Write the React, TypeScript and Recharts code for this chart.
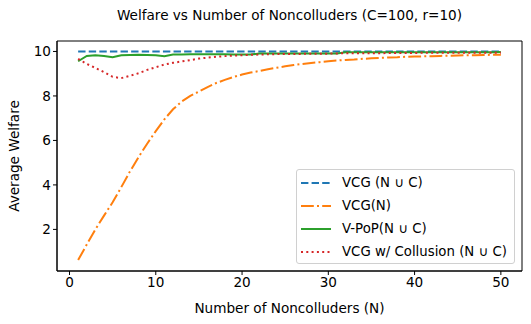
import React from 'react';
import {
  LineChart,
  Line,
  XAxis,
  YAxis,
  ReferenceArea,
} from 'recharts';

const noncolluders = Array.from({ length: 50 }, (_, i) => i + 1);

const vcgUnion = [
  10.0, 10.0, 10.0, 10.0, 10.0, 10.0, 10.0, 10.0, 10.0, 10.0,
  10.0, 10.0, 10.0, 10.0, 10.0, 10.0, 10.0, 10.0, 10.0, 10.0,
  10.0, 10.0, 10.0, 10.0, 10.0, 10.0, 10.0, 10.0, 10.0, 10.0,
  10.0, 10.0, 10.0, 10.0, 10.0, 10.0, 10.0, 10.0, 10.0, 10.0,
  10.0, 10.0, 10.0, 10.0, 10.0, 10.0, 10.0, 10.0, 10.0, 10.0,
];

const vcgN = [
  0.62, 1.32, 2.0, 2.62, 3.22, 3.9, 4.6, 5.25, 5.85, 6.42,
  6.95, 7.4, 7.75, 8.0, 8.2, 8.4, 8.58, 8.72, 8.85, 8.96,
  9.05, 9.12, 9.2, 9.27, 9.33, 9.39, 9.44, 9.48, 9.52, 9.56,
  9.59, 9.62, 9.64, 9.67, 9.69, 9.71, 9.73, 9.74, 9.76, 9.77,
  9.78, 9.79, 9.8, 9.81, 9.82, 9.83, 9.83, 9.84, 9.85, 9.85,
];

const vpop = [
  9.56, 9.8, 9.83, 9.8, 9.74, 9.83, 9.84, 9.85, 9.84, 9.83,
  9.79, 9.86, 9.86, 9.87, 9.87, 9.87, 9.87, 9.87, 9.86, 9.86,
  9.86, 9.91, 9.91, 9.91, 9.91, 9.91, 9.91, 9.91, 9.91, 9.91,
  9.91, 9.96, 9.96, 9.96, 9.96, 9.96, 9.96, 9.96, 9.96, 9.96,
  9.96, 9.96, 9.96, 9.96, 9.96, 9.96, 9.96, 9.96, 9.96, 9.98,
];

const vcgCollusion = [
  9.67, 9.44, 9.26, 9.07, 8.86, 8.8, 8.9, 9.02, 9.17, 9.29,
  9.41, 9.49, 9.55, 9.61, 9.68, 9.72, 9.76, 9.79, 9.81, 9.83,
  9.85, 9.86, 9.87, 9.88, 9.88, 9.89, 9.89, 9.9, 9.9, 9.9,
  9.91, 9.92, 9.92, 9.92, 9.92, 9.92, 9.93, 9.93, 9.93, 9.93,
  9.94, 9.94, 9.94, 9.94, 9.94, 9.94, 9.94, 9.94, 9.94, 9.94,
];

const xTicks = [0, 10, 20, 30, 40, 50];
const yTicks = [2, 4, 6, 8, 10];

const data = noncolluders.map((n, i) => ({
  n,
  vcgUnion: vcgUnion[i],
  vcgN: vcgN[i],
  vpop: vpop[i],
  vcgCollusion: vcgCollusion[i],
}));

const series = [
  { key: 'vcgUnion', name: 'VCG (N \u222A C)', color: '#1f77b4', dash: '7.4 3.2' },
  { key: 'vcgN', name: 'VCG(N)', color: '#ff7f0e', dash: '12.8 3.2 2 3.2' },
  { key: 'vpop', name: 'V-PoP(N \u222A C)', color: '#2ca02c', dash: undefined },
  { key: 'vcgCollusion', name: 'VCG w/ Collusion (N \u222A C)', color: '#d62728', dash: '2 3.3' },
];

const font = '"DejaVu Sans", sans-serif';
const fs = 13.6;
const xDomain: [number, number] = [-1.45, 52.45];
const yDomain: [number, number] = [0.13, 10.47];

function LegendBox() {
  return (
    <div
      style={{
        position: 'absolute',
        left: 296,
        top: 169,
        width: 219,
        height: 95,
        boxSizing: 'border-box',
        border: '1px solid #d0d0d0',
        borderRadius: 3,
        background: 'rgba(255,255,255,0.8)',
        padding: '1px 4px 0 4px',
        fontFamily: font,
        fontSize: 13.3,
        color: '#000',
      }}
    >
      {series.map((s) => (
        <div key={s.key} style={{ display: 'flex', alignItems: 'center', height: 23 }}>
          <svg width={30} height={10} style={{ marginRight: 11, flexShrink: 0 }}>
            <line x1={0} y1={5} x2={30} y2={5} stroke={s.color} strokeWidth={2} strokeDasharray={s.dash} />
          </svg>
          <span style={{ whiteSpace: 'nowrap' }}>{s.name}</span>
        </div>
      ))}
    </div>
  );
}

export default function App() {
  return (
    <div style={{ position: 'absolute', left: 0, top: 0, width: 531, height: 324, background: '#fff' }}>
      <div
        style={{
          position: 'absolute',
          top: 7,
          left: 57,
          width: 465,
          textAlign: 'center',
          fontFamily: font,
          fontSize: fs,
          color: '#000',
        }}
      >
        Welfare vs Number of Noncolluders (C=100, r=10)
      </div>
      <LineChart
        width={531}
        height={324}
        data={data}
        margin={{ top: 41, right: 9, left: 0, bottom: 0 }}
      >
        <ReferenceArea
          x1={xDomain[0]}
          x2={xDomain[1]}
          y1={yDomain[0]}
          y2={yDomain[1]}
          fill="none"
          fillOpacity={0}
          stroke="#000"
          strokeWidth={1}
          ifOverflow="visible"
        />
        <XAxis
          dataKey="n"
          type="number"
          domain={xDomain}
          ticks={xTicks}
          allowDataOverflow
          height={53}
          stroke="#000"
          tickSize={4}
          tick={{ fill: '#000', fontSize: fs, fontFamily: font }}
          label={{
            value: 'Number of Noncolluders (N)',
            position: 'insideBottom',
            offset: 11,
            fill: '#000',
            fontSize: fs,
            fontFamily: font,
          }}
        />
        <YAxis
          type="number"
          domain={yDomain}
          ticks={yTicks}
          allowDataOverflow
          width={57}
          stroke="#000"
          tickSize={4}
          tick={{ fill: '#000', fontSize: fs, fontFamily: font }}
          label={{
            value: 'Average Welfare',
            angle: -90,
            position: 'insideLeft',
            offset: 14,
            style: { textAnchor: 'middle' },
            fill: '#000',
            fontSize: fs,
            fontFamily: font,
          }}
        />
        {series.map((s) => (
          <Line
            key={s.key}
            type="linear"
            dataKey={s.key}
            name={s.name}
            stroke={s.color}
            strokeWidth={2}
            strokeDasharray={s.dash}
            dot={false}
            activeDot={false}
            isAnimationActive={false}
          />
        ))}
      </LineChart>
      <LegendBox />
    </div>
  );
}
